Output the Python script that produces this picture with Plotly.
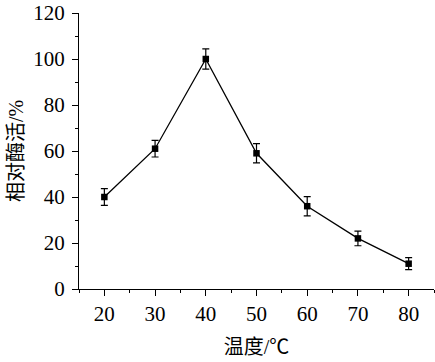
import plotly.graph_objects as go

temps = [20, 30, 40, 50, 60, 70, 80]
activity = [40, 61, 100, 59, 36, 22, 11]
errors = [3.6, 3.6, 4.4, 4.2, 4.2, 3.2, 2.6]

NUMFONT = "Times New Roman"
CJKFONT = "Times New Roman, Noto Sans CJK SC"

fig = go.Figure()
fig.add_trace(go.Scatter(
    x=temps, y=activity,
    mode="lines+markers",
    line=dict(color="black", width=1.3),
    marker=dict(symbol="square", size=6.5, color="black"),
    error_y=dict(type="data", array=errors, visible=True, color="black", thickness=1.2, width=3.5),
    showlegend=False,
))

fig.update_layout(
    width=435, height=362,
    margin=dict(l=79, r=1, t=13, b=73),
    paper_bgcolor="white", plot_bgcolor="white",
    font=dict(family=NUMFONT, size=20, color="black"),
)
fig.update_xaxes(
    range=[15, 85], tickvals=[20, 30, 40, 50, 60, 70, 80],
    automargin=False,
    showline=True, linecolor="black", linewidth=1.3,
    ticks="outside", ticklen=6, tickwidth=1.2, tickcolor="black",
    minor=dict(tickvals=[15, 25, 35, 45, 55, 65, 75, 85], ticks="outside", ticklen=3, tickwidth=1.2, tickcolor="black"),
    showgrid=False, zeroline=False,
    tickfont=dict(family=NUMFONT, size=21),
    title=dict(text="温度/℃", font=dict(family=CJKFONT, size=20), standoff=14),
)
fig.update_yaxes(
    range=[0, 120], tickvals=[0, 20, 40, 60, 80, 100, 120],
    automargin=False,
    showline=True, linecolor="black", linewidth=1.3,
    ticks="outside", ticklen=6, tickwidth=1.2, tickcolor="black",
    ticklabelstandoff=3,
    minor=dict(tickvals=[10, 30, 50, 70, 90, 110], ticks="outside", ticklen=3, tickwidth=1.2, tickcolor="black"),
    showgrid=False, zeroline=False,
    tickfont=dict(family=NUMFONT, size=21),
    title=dict(text="相对酶活/%", font=dict(family=CJKFONT, size=20), standoff=4),
)

fig.write_html("out.html", config={"displayModeBar": False},
               post_script="document.body.style.margin='0';document.body.style.padding='0';")
